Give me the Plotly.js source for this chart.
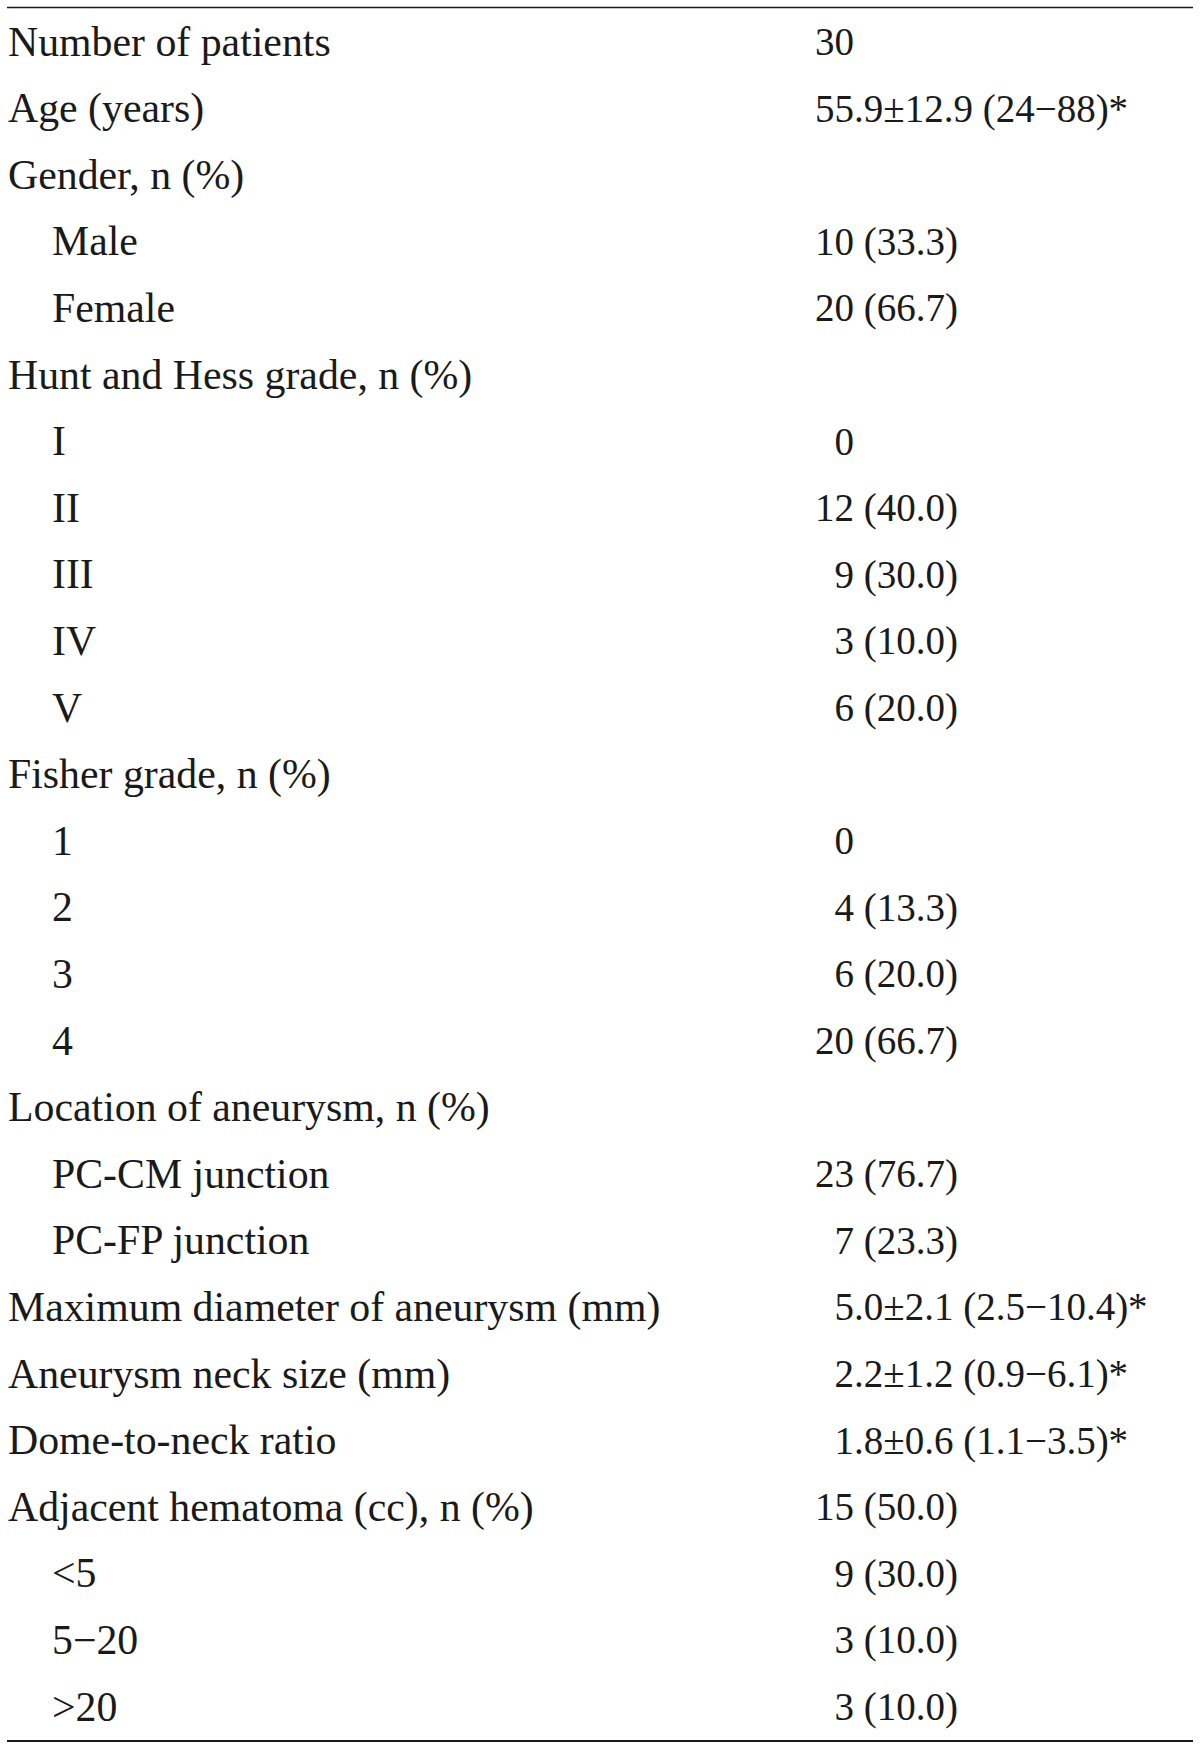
<!DOCTYPE html>
<html>
<head>
<meta charset="utf-8">
<script src="https://cdn.plot.ly/plotly-3.0.1.min.js"></script>
<style>html,body{margin:0;padding:0;background:#fff;}#chart{width:1200px;height:1749px;}</style>
</head>
<body>
<div id="chart"></div>
<script>
// Characteristic labels (left column)
const labels = [
  "Number of patients", "Age (years)", "Gender, n (%)", "Male", "Female",
  "Hunt and Hess grade, n (%)", "I", "II", "III", "IV", "V",
  "Fisher grade, n (%)", "1", "2", "3", "4",
  "Location of aneurysm, n (%)", "PC-CM junction", "PC-FP junction",
  "Maximum diameter of aneurysm (mm)", "Aneurysm neck size (mm)", "Dome-to-neck ratio",
  "Adjacent hematoma (cc), n (%)", "<5", "5\u221220", ">20"
];
// Whether the row is a sub-category (indented)
const isSub = [
  false, false, false, true, true,
  false, true, true, true, true, true,
  false, true, true, true, true,
  false, true, true,
  false, false, false,
  false, true, true, true
];
// Values (right column); U+2007 figure space pads single-digit counts
const values = [
  "30", "55.9\u00b112.9 (24\u221288)*", "", "10 (33.3)", "20 (66.7)",
  "", "\u20070", "12 (40.0)", "\u20079 (30.0)", "\u20073 (10.0)", "\u20076 (20.0)",
  "", "\u20070", "\u20074 (13.3)", "\u20076 (20.0)", "20 (66.7)",
  "", "23 (76.7)", "\u20077 (23.3)",
  "\u20075.0\u00b12.1 (2.5\u221210.4)*", "\u20072.2\u00b11.2 (0.9\u22126.1)*", "\u20071.8\u00b10.6 (1.1\u22123.5)*",
  "15 (50.0)", "\u20079 (30.0)", "\u20073 (10.0)", "\u20073 (10.0)"
];

const rows = labels.map((_, i) => i);
const fam = "Liberation Serif, Times New Roman, serif";
const labelFont = {family: fam, size: 41.8, color: "#1a1a1a"};
const valueFont = {family: fam, size: 39, color: "#1a1a1a"};

const traces = [
  {
    type: "scatter", mode: "text",
    x: labels.map((_, i) => isSub[i] ? 52 : 8),
    y: rows, text: labels, textposition: "middle right",
    textfont: labelFont, hoverinfo: "skip", showlegend: false, cliponaxis: false
  },
  {
    type: "scatter", mode: "text",
    x: values.map(() => 815),
    y: rows, text: values, textposition: "middle right",
    textfont: valueFont, hoverinfo: "skip", showlegend: false, cliponaxis: false
  }
];

const rowH = 66.6, firstY = 45.2, H = 1749;
const r0 = -firstY / rowH;
const r1 = r0 + H / rowH;

const layout = {
  width: 1200, height: 1749,
  margin: {l: 0, r: 0, t: 0, b: 0},
  paper_bgcolor: "#ffffff", plot_bgcolor: "#ffffff",
  xaxis: {range: [0, 1200], visible: false, fixedrange: true},
  yaxis: {range: [r1, r0], visible: false, fixedrange: true},
  shapes: [
    {type: "line", xref: "x", yref: "paper", x0: 7, x1: 1193, y0: 1 - 7.5 / H, y1: 1 - 7.5 / H,
     line: {color: "#1a1a1a", width: 1.6}},
    {type: "line", xref: "x", yref: "paper", x0: 7, x1: 1193, y0: 1 - 1741 / H, y1: 1 - 1741 / H,
     line: {color: "#1a1a1a", width: 2.2}}
  ]
};

Plotly.newPlot("chart", traces, layout, {staticPlot: true, displayModeBar: false});
</script>
</body>
</html>
